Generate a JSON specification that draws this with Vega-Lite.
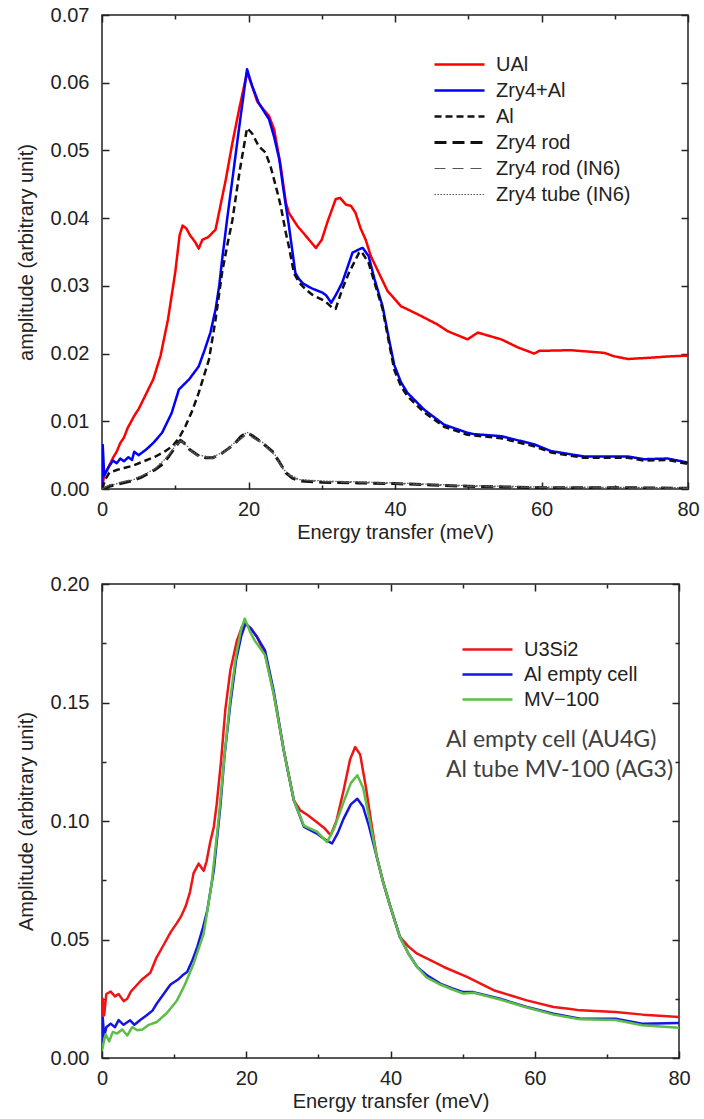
{
  "$schema": "https://vega.github.io/schema/vega-lite/v6.json",
  "background": "white",
  "padding": {"top": 4, "left": 15, "right": 8, "bottom": 4},
  "spacing": 30,
  "config": {
    "view": {"stroke": "#222222", "strokeWidth": 1.5},
    "font": "Liberation Sans",
    "axis": {
      "grid": false, "domain": false,
      "labelFont": "Liberation Sans", "labelFontSize": 20, "labelColor": "#222222",
      "titleFont": "Liberation Sans", "titleFontSize": 20, "titleFontWeight": "normal", "titleColor": "#222222",
      "tickColor": "#222222", "tickWidth": 1.5, "labelFlush": false, "labelOverlap": false
    },
    "legend": {
      "orient": "none", "title": null, "symbolType": "stroke", "symbolSize": 2500,
      "clipHeight": 23, "rowPadding": 2, "padding": 0,
      "labelFont": "Liberation Sans", "labelFontSize": 20, "labelColor": "#222222", "labelOffset": 10
    }
  },
  "resolve": {"scale": {"color": "independent", "strokeDash": "independent", "strokeWidth": "independent", "x": "independent", "y": "independent"}},
  "datasets": {
    "top": [
      {"s": "UAl", "E": 0, "A": 0.0},
      {"s": "UAl", "E": 0.3, "A": 0.002},
      {"s": "UAl", "E": 1, "A": 0.0035},
      {"s": "UAl", "E": 1.6, "A": 0.0048},
      {"s": "UAl", "E": 2, "A": 0.0055},
      {"s": "UAl", "E": 2.5, "A": 0.0068},
      {"s": "UAl", "E": 3, "A": 0.0076},
      {"s": "UAl", "E": 3.5, "A": 0.0090},
      {"s": "UAl", "E": 4, "A": 0.0100},
      {"s": "UAl", "E": 4.4, "A": 0.0108},
      {"s": "UAl", "E": 5, "A": 0.0118},
      {"s": "UAl", "E": 6, "A": 0.0140},
      {"s": "UAl", "E": 7, "A": 0.0162},
      {"s": "UAl", "E": 8, "A": 0.0197},
      {"s": "UAl", "E": 9, "A": 0.0250},
      {"s": "UAl", "E": 10, "A": 0.0320},
      {"s": "UAl", "E": 10.6, "A": 0.0375},
      {"s": "UAl", "E": 11, "A": 0.0389},
      {"s": "UAl", "E": 11.5, "A": 0.0385},
      {"s": "UAl", "E": 12, "A": 0.0375},
      {"s": "UAl", "E": 12.7, "A": 0.0365},
      {"s": "UAl", "E": 13.2, "A": 0.0355},
      {"s": "UAl", "E": 13.7, "A": 0.0368},
      {"s": "UAl", "E": 14.5, "A": 0.0372},
      {"s": "UAl", "E": 15.5, "A": 0.0383},
      {"s": "UAl", "E": 16.2, "A": 0.0420},
      {"s": "UAl", "E": 16.9, "A": 0.0457},
      {"s": "UAl", "E": 17.8, "A": 0.0511},
      {"s": "UAl", "E": 18.8, "A": 0.0565},
      {"s": "UAl", "E": 19.8, "A": 0.0615},
      {"s": "UAl", "E": 20.5, "A": 0.0595},
      {"s": "UAl", "E": 21.2, "A": 0.0572},
      {"s": "UAl", "E": 21.7, "A": 0.0565},
      {"s": "UAl", "E": 22.8, "A": 0.0551},
      {"s": "UAl", "E": 23.5, "A": 0.0531},
      {"s": "UAl", "E": 24.4, "A": 0.0477},
      {"s": "UAl", "E": 25.1, "A": 0.0423},
      {"s": "UAl", "E": 25.5, "A": 0.0408},
      {"s": "UAl", "E": 26.7, "A": 0.0388},
      {"s": "UAl", "E": 27.5, "A": 0.0378},
      {"s": "UAl", "E": 28.5, "A": 0.0365},
      {"s": "UAl", "E": 29.2, "A": 0.0356},
      {"s": "UAl", "E": 30.0, "A": 0.0368},
      {"s": "UAl", "E": 30.8, "A": 0.0395},
      {"s": "UAl", "E": 31.9, "A": 0.0428},
      {"s": "UAl", "E": 32.5, "A": 0.0430},
      {"s": "UAl", "E": 33.3, "A": 0.0420},
      {"s": "UAl", "E": 34.0, "A": 0.0418},
      {"s": "UAl", "E": 34.6, "A": 0.0408},
      {"s": "UAl", "E": 35.3, "A": 0.0385},
      {"s": "UAl", "E": 36.0, "A": 0.0368},
      {"s": "UAl", "E": 36.7, "A": 0.0344},
      {"s": "UAl", "E": 37.8, "A": 0.0319},
      {"s": "UAl", "E": 39.0, "A": 0.0292},
      {"s": "UAl", "E": 39.6, "A": 0.0285},
      {"s": "UAl", "E": 40.8, "A": 0.0270},
      {"s": "UAl", "E": 43.1, "A": 0.0258},
      {"s": "UAl", "E": 45.8, "A": 0.0243},
      {"s": "UAl", "E": 47.2, "A": 0.0233},
      {"s": "UAl", "E": 49.9, "A": 0.0221},
      {"s": "UAl", "E": 51.3, "A": 0.0231},
      {"s": "UAl", "E": 54.5, "A": 0.0221},
      {"s": "UAl", "E": 56.8, "A": 0.0209},
      {"s": "UAl", "E": 59.0, "A": 0.0200},
      {"s": "UAl", "E": 59.7, "A": 0.0204},
      {"s": "UAl", "E": 64.0, "A": 0.0205},
      {"s": "UAl", "E": 68.6, "A": 0.0201},
      {"s": "UAl", "E": 69.9, "A": 0.0196},
      {"s": "UAl", "E": 71.8, "A": 0.0192},
      {"s": "UAl", "E": 75.0, "A": 0.0194},
      {"s": "UAl", "E": 77.7, "A": 0.0196},
      {"s": "UAl", "E": 80, "A": 0.0197},

      {"s": "Zry4+Al", "E": 0, "A": 0.0},
      {"s": "Zry4+Al", "E": 0.1, "A": 0.0065},
      {"s": "Zry4+Al", "E": 0.3, "A": 0.0020},
      {"s": "Zry4+Al", "E": 1, "A": 0.0034},
      {"s": "Zry4+Al", "E": 1.5, "A": 0.0042},
      {"s": "Zry4+Al", "E": 2, "A": 0.0038},
      {"s": "Zry4+Al", "E": 2.5, "A": 0.0045},
      {"s": "Zry4+Al", "E": 3, "A": 0.0041},
      {"s": "Zry4+Al", "E": 3.6, "A": 0.0047},
      {"s": "Zry4+Al", "E": 4.1, "A": 0.0043},
      {"s": "Zry4+Al", "E": 4.4, "A": 0.0055},
      {"s": "Zry4+Al", "E": 5, "A": 0.0050},
      {"s": "Zry4+Al", "E": 6, "A": 0.0058},
      {"s": "Zry4+Al", "E": 7, "A": 0.0068},
      {"s": "Zry4+Al", "E": 8.2, "A": 0.0083},
      {"s": "Zry4+Al", "E": 9.5, "A": 0.0112},
      {"s": "Zry4+Al", "E": 10.5, "A": 0.0147},
      {"s": "Zry4+Al", "E": 11.9, "A": 0.0162},
      {"s": "Zry4+Al", "E": 13.2, "A": 0.0181},
      {"s": "Zry4+Al", "E": 14.0, "A": 0.0205},
      {"s": "Zry4+Al", "E": 14.8, "A": 0.0231},
      {"s": "Zry4+Al", "E": 15.5, "A": 0.0265},
      {"s": "Zry4+Al", "E": 16.0, "A": 0.0300},
      {"s": "Zry4+Al", "E": 16.4, "A": 0.0339},
      {"s": "Zry4+Al", "E": 17.1, "A": 0.0400},
      {"s": "Zry4+Al", "E": 17.8, "A": 0.0457},
      {"s": "Zry4+Al", "E": 18.8, "A": 0.0540},
      {"s": "Zry4+Al", "E": 19.8, "A": 0.0620},
      {"s": "Zry4+Al", "E": 20.5, "A": 0.0595},
      {"s": "Zry4+Al", "E": 21.4, "A": 0.0570},
      {"s": "Zry4+Al", "E": 22.8, "A": 0.0546},
      {"s": "Zry4+Al", "E": 23.5, "A": 0.0520},
      {"s": "Zry4+Al", "E": 24.2, "A": 0.0487},
      {"s": "Zry4+Al", "E": 24.8, "A": 0.0440},
      {"s": "Zry4+Al", "E": 25.5, "A": 0.0390},
      {"s": "Zry4+Al", "E": 26.4, "A": 0.0319},
      {"s": "Zry4+Al", "E": 26.9, "A": 0.0310},
      {"s": "Zry4+Al", "E": 27.5, "A": 0.0303},
      {"s": "Zry4+Al", "E": 28.7, "A": 0.0296},
      {"s": "Zry4+Al", "E": 30.1, "A": 0.0290},
      {"s": "Zry4+Al", "E": 30.6, "A": 0.0286},
      {"s": "Zry4+Al", "E": 31.3, "A": 0.0275},
      {"s": "Zry4+Al", "E": 32.0, "A": 0.0288},
      {"s": "Zry4+Al", "E": 32.8, "A": 0.0305},
      {"s": "Zry4+Al", "E": 34.2, "A": 0.0349},
      {"s": "Zry4+Al", "E": 35.3, "A": 0.0355},
      {"s": "Zry4+Al", "E": 35.6, "A": 0.0356},
      {"s": "Zry4+Al", "E": 36.4, "A": 0.0344},
      {"s": "Zry4+Al", "E": 37.2, "A": 0.0310},
      {"s": "Zry4+Al", "E": 38.3, "A": 0.0270},
      {"s": "Zry4+Al", "E": 39.2, "A": 0.0220},
      {"s": "Zry4+Al", "E": 39.9, "A": 0.0183},
      {"s": "Zry4+Al", "E": 40.8, "A": 0.0158},
      {"s": "Zry4+Al", "E": 41.7, "A": 0.0142},
      {"s": "Zry4+Al", "E": 44.0, "A": 0.0117},
      {"s": "Zry4+Al", "E": 46.7, "A": 0.0095},
      {"s": "Zry4+Al", "E": 49.9, "A": 0.0083},
      {"s": "Zry4+Al", "E": 50.8, "A": 0.0081},
      {"s": "Zry4+Al", "E": 54.5, "A": 0.0078},
      {"s": "Zry4+Al", "E": 59.0, "A": 0.0066},
      {"s": "Zry4+Al", "E": 61.3, "A": 0.0056},
      {"s": "Zry4+Al", "E": 65.8, "A": 0.0048},
      {"s": "Zry4+Al", "E": 71.8, "A": 0.0048},
      {"s": "Zry4+Al", "E": 74.0, "A": 0.0044},
      {"s": "Zry4+Al", "E": 77.2, "A": 0.0045},
      {"s": "Zry4+Al", "E": 80, "A": 0.0039},

      {"s": "Al", "E": 0, "A": 0.0},
      {"s": "Al", "E": 0.5, "A": 0.0015},
      {"s": "Al", "E": 1, "A": 0.0024},
      {"s": "Al", "E": 2, "A": 0.0028},
      {"s": "Al", "E": 3, "A": 0.0031},
      {"s": "Al", "E": 4.1, "A": 0.0034},
      {"s": "Al", "E": 5.5, "A": 0.0040},
      {"s": "Al", "E": 7.3, "A": 0.0048},
      {"s": "Al", "E": 8.5, "A": 0.0055},
      {"s": "Al", "E": 9.6, "A": 0.0063},
      {"s": "Al", "E": 10.5, "A": 0.0075},
      {"s": "Al", "E": 11.4, "A": 0.0093},
      {"s": "Al", "E": 12.3, "A": 0.0115},
      {"s": "Al", "E": 13.2, "A": 0.0142},
      {"s": "Al", "E": 14.6, "A": 0.0191},
      {"s": "Al", "E": 15.5, "A": 0.0250},
      {"s": "Al", "E": 16.4, "A": 0.0320},
      {"s": "Al", "E": 17.1, "A": 0.0360},
      {"s": "Al", "E": 17.8, "A": 0.0397},
      {"s": "Al", "E": 18.8, "A": 0.0470},
      {"s": "Al", "E": 19.8, "A": 0.0533},
      {"s": "Al", "E": 20.5, "A": 0.0525},
      {"s": "Al", "E": 21.4, "A": 0.0506},
      {"s": "Al", "E": 22.3, "A": 0.0497},
      {"s": "Al", "E": 23.0, "A": 0.0477},
      {"s": "Al", "E": 23.9, "A": 0.0440},
      {"s": "Al", "E": 24.4, "A": 0.0418},
      {"s": "Al", "E": 25.1, "A": 0.0378},
      {"s": "Al", "E": 25.5, "A": 0.0359},
      {"s": "Al", "E": 26.2, "A": 0.0319},
      {"s": "Al", "E": 26.9, "A": 0.0305},
      {"s": "Al", "E": 27.8, "A": 0.0295},
      {"s": "Al", "E": 28.7, "A": 0.0287},
      {"s": "Al", "E": 30.5, "A": 0.0277},
      {"s": "Al", "E": 31.4, "A": 0.0268},
      {"s": "Al", "E": 31.9, "A": 0.0266},
      {"s": "Al", "E": 32.8, "A": 0.0295},
      {"s": "Al", "E": 33.7, "A": 0.0319},
      {"s": "Al", "E": 35.1, "A": 0.0349},
      {"s": "Al", "E": 35.4, "A": 0.0351},
      {"s": "Al", "E": 36.4, "A": 0.0334},
      {"s": "Al", "E": 37.2, "A": 0.0305},
      {"s": "Al", "E": 38.3, "A": 0.0266},
      {"s": "Al", "E": 39.2, "A": 0.0215},
      {"s": "Al", "E": 39.9, "A": 0.0176},
      {"s": "Al", "E": 40.8, "A": 0.0152},
      {"s": "Al", "E": 41.7, "A": 0.0137},
      {"s": "Al", "E": 44.0, "A": 0.0113},
      {"s": "Al", "E": 46.7, "A": 0.0092},
      {"s": "Al", "E": 49.9, "A": 0.0080},
      {"s": "Al", "E": 54.5, "A": 0.0075},
      {"s": "Al", "E": 59.0, "A": 0.0063},
      {"s": "Al", "E": 61.3, "A": 0.0054},
      {"s": "Al", "E": 65.8, "A": 0.0046},
      {"s": "Al", "E": 71.8, "A": 0.0046},
      {"s": "Al", "E": 74.0, "A": 0.0042},
      {"s": "Al", "E": 77.2, "A": 0.0043},
      {"s": "Al", "E": 80, "A": 0.0037},

      {"s": "Zry4 rod", "E": 0, "A": 0.0},
      {"s": "Zry4 rod", "E": 1, "A": 0.0004},
      {"s": "Zry4 rod", "E": 2.5, "A": 0.0008},
      {"s": "Zry4 rod", "E": 4.1, "A": 0.0012},
      {"s": "Zry4 rod", "E": 5.5, "A": 0.0018},
      {"s": "Zry4 rod", "E": 7.3, "A": 0.0029},
      {"s": "Zry4 rod", "E": 8.3, "A": 0.0037},
      {"s": "Zry4 rod", "E": 9.1, "A": 0.0048},
      {"s": "Zry4 rod", "E": 10.0, "A": 0.0062},
      {"s": "Zry4 rod", "E": 10.7, "A": 0.0072},
      {"s": "Zry4 rod", "E": 11.2, "A": 0.0068},
      {"s": "Zry4 rod", "E": 12.0, "A": 0.0058},
      {"s": "Zry4 rod", "E": 13.2, "A": 0.0049},
      {"s": "Zry4 rod", "E": 14.2, "A": 0.0046},
      {"s": "Zry4 rod", "E": 15.1, "A": 0.0046},
      {"s": "Zry4 rod", "E": 16.4, "A": 0.0053},
      {"s": "Zry4 rod", "E": 17.3, "A": 0.0060},
      {"s": "Zry4 rod", "E": 18.2, "A": 0.0068},
      {"s": "Zry4 rod", "E": 19.0, "A": 0.0078},
      {"s": "Zry4 rod", "E": 19.8, "A": 0.0083},
      {"s": "Zry4 rod", "E": 20.5, "A": 0.0079},
      {"s": "Zry4 rod", "E": 21.9, "A": 0.0068},
      {"s": "Zry4 rod", "E": 23.3, "A": 0.0055},
      {"s": "Zry4 rod", "E": 24.2, "A": 0.0040},
      {"s": "Zry4 rod", "E": 25.1, "A": 0.0024},
      {"s": "Zry4 rod", "E": 26.0, "A": 0.0016},
      {"s": "Zry4 rod", "E": 26.9, "A": 0.0012},
      {"s": "Zry4 rod", "E": 30, "A": 0.0010},
      {"s": "Zry4 rod", "E": 35, "A": 0.0009},
      {"s": "Zry4 rod", "E": 40, "A": 0.0008},
      {"s": "Zry4 rod", "E": 45, "A": 0.0006},
      {"s": "Zry4 rod", "E": 50, "A": 0.0004},
      {"s": "Zry4 rod", "E": 55, "A": 0.0003},
      {"s": "Zry4 rod", "E": 60, "A": 0.0002},
      {"s": "Zry4 rod", "E": 70, "A": 0.0002},
      {"s": "Zry4 rod", "E": 80, "A": 0.0001},

      {"s": "Zry4 rod (IN6)", "E": 0, "A": 0.0},
      {"s": "Zry4 rod (IN6)", "E": 1, "A": 0.0006},
      {"s": "Zry4 rod (IN6)", "E": 2.5, "A": 0.0010},
      {"s": "Zry4 rod (IN6)", "E": 4.1, "A": 0.0014},
      {"s": "Zry4 rod (IN6)", "E": 5.5, "A": 0.0020},
      {"s": "Zry4 rod (IN6)", "E": 7.3, "A": 0.0030},
      {"s": "Zry4 rod (IN6)", "E": 9.1, "A": 0.0050},
      {"s": "Zry4 rod (IN6)", "E": 10.0, "A": 0.0063},
      {"s": "Zry4 rod (IN6)", "E": 10.8, "A": 0.0071},
      {"s": "Zry4 rod (IN6)", "E": 12.0, "A": 0.0057},
      {"s": "Zry4 rod (IN6)", "E": 13.2, "A": 0.0048},
      {"s": "Zry4 rod (IN6)", "E": 15.1, "A": 0.0045},
      {"s": "Zry4 rod (IN6)", "E": 16.4, "A": 0.0052},
      {"s": "Zry4 rod (IN6)", "E": 18.2, "A": 0.0067},
      {"s": "Zry4 rod (IN6)", "E": 19.8, "A": 0.0081},
      {"s": "Zry4 rod (IN6)", "E": 21.9, "A": 0.0067},
      {"s": "Zry4 rod (IN6)", "E": 23.3, "A": 0.0053},
      {"s": "Zry4 rod (IN6)", "E": 25.1, "A": 0.0023},
      {"s": "Zry4 rod (IN6)", "E": 26.9, "A": 0.0013},
      {"s": "Zry4 rod (IN6)", "E": 30, "A": 0.0011},
      {"s": "Zry4 rod (IN6)", "E": 40, "A": 0.0008},
      {"s": "Zry4 rod (IN6)", "E": 50, "A": 0.0004},
      {"s": "Zry4 rod (IN6)", "E": 60, "A": 0.0002},
      {"s": "Zry4 rod (IN6)", "E": 80, "A": 0.0001},

      {"s": "Zry4 tube (IN6)", "E": 0, "A": 0.0},
      {"s": "Zry4 tube (IN6)", "E": 1, "A": 0.0005},
      {"s": "Zry4 tube (IN6)", "E": 2.5, "A": 0.0009},
      {"s": "Zry4 tube (IN6)", "E": 4.1, "A": 0.0013},
      {"s": "Zry4 tube (IN6)", "E": 5.5, "A": 0.0019},
      {"s": "Zry4 tube (IN6)", "E": 7.3, "A": 0.0031},
      {"s": "Zry4 tube (IN6)", "E": 9.1, "A": 0.0049},
      {"s": "Zry4 tube (IN6)", "E": 10.0, "A": 0.0064},
      {"s": "Zry4 tube (IN6)", "E": 10.8, "A": 0.0073},
      {"s": "Zry4 tube (IN6)", "E": 12.0, "A": 0.0059},
      {"s": "Zry4 tube (IN6)", "E": 13.2, "A": 0.0050},
      {"s": "Zry4 tube (IN6)", "E": 15.1, "A": 0.0047},
      {"s": "Zry4 tube (IN6)", "E": 16.4, "A": 0.0054},
      {"s": "Zry4 tube (IN6)", "E": 18.2, "A": 0.0069},
      {"s": "Zry4 tube (IN6)", "E": 19.8, "A": 0.0084},
      {"s": "Zry4 tube (IN6)", "E": 21.9, "A": 0.0069},
      {"s": "Zry4 tube (IN6)", "E": 23.3, "A": 0.0056},
      {"s": "Zry4 tube (IN6)", "E": 25.1, "A": 0.0025},
      {"s": "Zry4 tube (IN6)", "E": 26.9, "A": 0.0014},
      {"s": "Zry4 tube (IN6)", "E": 30, "A": 0.0012},
      {"s": "Zry4 tube (IN6)", "E": 40, "A": 0.0009},
      {"s": "Zry4 tube (IN6)", "E": 50, "A": 0.0005},
      {"s": "Zry4 tube (IN6)", "E": 60, "A": 0.0003},
      {"s": "Zry4 tube (IN6)", "E": 80, "A": 0.0002}
    ],
    "bot": [
      {"s": "U3Si2", "E": 0, "A": 0.010},
      {"s": "U3Si2", "E": 0.1, "A": 0.025},
      {"s": "U3Si2", "E": 0.3, "A": 0.018},
      {"s": "U3Si2", "E": 0.6, "A": 0.027},
      {"s": "U3Si2", "E": 1.2, "A": 0.028},
      {"s": "U3Si2", "E": 1.8, "A": 0.026},
      {"s": "U3Si2", "E": 2.3, "A": 0.027},
      {"s": "U3Si2", "E": 3.0, "A": 0.024},
      {"s": "U3Si2", "E": 3.5, "A": 0.025},
      {"s": "U3Si2", "E": 4.0, "A": 0.028},
      {"s": "U3Si2", "E": 4.9, "A": 0.031},
      {"s": "U3Si2", "E": 5.5, "A": 0.033},
      {"s": "U3Si2", "E": 6.7, "A": 0.036},
      {"s": "U3Si2", "E": 7.5, "A": 0.042},
      {"s": "U3Si2", "E": 8.6, "A": 0.048},
      {"s": "U3Si2", "E": 9.5, "A": 0.053},
      {"s": "U3Si2", "E": 10.4, "A": 0.057},
      {"s": "U3Si2", "E": 11.0, "A": 0.060},
      {"s": "U3Si2", "E": 11.6, "A": 0.064},
      {"s": "U3Si2", "E": 12.2, "A": 0.070},
      {"s": "U3Si2", "E": 12.7, "A": 0.078},
      {"s": "U3Si2", "E": 13.4, "A": 0.082},
      {"s": "U3Si2", "E": 14.1, "A": 0.079},
      {"s": "U3Si2", "E": 14.5, "A": 0.083},
      {"s": "U3Si2", "E": 15.0, "A": 0.091},
      {"s": "U3Si2", "E": 15.5, "A": 0.0975},
      {"s": "U3Si2", "E": 15.9, "A": 0.107},
      {"s": "U3Si2", "E": 16.5, "A": 0.125},
      {"s": "U3Si2", "E": 17.1, "A": 0.147},
      {"s": "U3Si2", "E": 17.8, "A": 0.1636},
      {"s": "U3Si2", "E": 18.7, "A": 0.176},
      {"s": "U3Si2", "E": 19.4, "A": 0.1819},
      {"s": "U3Si2", "E": 19.9, "A": 0.1833},
      {"s": "U3Si2", "E": 20.7, "A": 0.181},
      {"s": "U3Si2", "E": 21.5, "A": 0.1776},
      {"s": "U3Si2", "E": 22.6, "A": 0.1706},
      {"s": "U3Si2", "E": 23.8, "A": 0.1538},
      {"s": "U3Si2", "E": 25.2, "A": 0.1298},
      {"s": "U3Si2", "E": 26.6, "A": 0.1087},
      {"s": "U3Si2", "E": 27.5, "A": 0.1045},
      {"s": "U3Si2", "E": 28.5, "A": 0.1025},
      {"s": "U3Si2", "E": 29.8, "A": 0.0995},
      {"s": "U3Si2", "E": 30.9, "A": 0.0968},
      {"s": "U3Si2", "E": 31.7, "A": 0.0940},
      {"s": "U3Si2", "E": 32.5, "A": 0.100},
      {"s": "U3Si2", "E": 33.5, "A": 0.113},
      {"s": "U3Si2", "E": 34.4, "A": 0.126},
      {"s": "U3Si2", "E": 35.1, "A": 0.1312},
      {"s": "U3Si2", "E": 35.8, "A": 0.128},
      {"s": "U3Si2", "E": 36.6, "A": 0.114},
      {"s": "U3Si2", "E": 37.4, "A": 0.098},
      {"s": "U3Si2", "E": 38.1, "A": 0.0848},
      {"s": "U3Si2", "E": 39.0, "A": 0.074},
      {"s": "U3Si2", "E": 40.0, "A": 0.0637},
      {"s": "U3Si2", "E": 41.3, "A": 0.0511},
      {"s": "U3Si2", "E": 42.5, "A": 0.047},
      {"s": "U3Si2", "E": 43.7, "A": 0.044},
      {"s": "U3Si2", "E": 47.4, "A": 0.0384},
      {"s": "U3Si2", "E": 50.6, "A": 0.0342},
      {"s": "U3Si2", "E": 54.3, "A": 0.0286},
      {"s": "U3Si2", "E": 58.9, "A": 0.0243},
      {"s": "U3Si2", "E": 62.6, "A": 0.0215},
      {"s": "U3Si2", "E": 64.7, "A": 0.0208},
      {"s": "U3Si2", "E": 66.3, "A": 0.0201},
      {"s": "U3Si2", "E": 71.2, "A": 0.0194},
      {"s": "U3Si2", "E": 75, "A": 0.0183},
      {"s": "U3Si2", "E": 80, "A": 0.0173},

      {"s": "Al empty cell", "E": 0, "A": 0.005},
      {"s": "Al empty cell", "E": 0.1, "A": 0.017},
      {"s": "Al empty cell", "E": 0.3, "A": 0.009},
      {"s": "Al empty cell", "E": 0.6, "A": 0.013},
      {"s": "Al empty cell", "E": 1.2, "A": 0.0145},
      {"s": "Al empty cell", "E": 1.8, "A": 0.013},
      {"s": "Al empty cell", "E": 2.3, "A": 0.016},
      {"s": "Al empty cell", "E": 3.0, "A": 0.014},
      {"s": "Al empty cell", "E": 3.9, "A": 0.0159},
      {"s": "Al empty cell", "E": 4.5, "A": 0.014},
      {"s": "Al empty cell", "E": 5.3, "A": 0.016},
      {"s": "Al empty cell", "E": 6.2, "A": 0.018},
      {"s": "Al empty cell", "E": 7.0, "A": 0.020},
      {"s": "Al empty cell", "E": 7.6, "A": 0.023},
      {"s": "Al empty cell", "E": 8.6, "A": 0.0272},
      {"s": "Al empty cell", "E": 9.5, "A": 0.031},
      {"s": "Al empty cell", "E": 10.5, "A": 0.033},
      {"s": "Al empty cell", "E": 11.2, "A": 0.035},
      {"s": "Al empty cell", "E": 11.8, "A": 0.0363},
      {"s": "Al empty cell", "E": 12.5, "A": 0.041},
      {"s": "Al empty cell", "E": 13.2, "A": 0.0468},
      {"s": "Al empty cell", "E": 14.0, "A": 0.055},
      {"s": "Al empty cell", "E": 14.6, "A": 0.0623},
      {"s": "Al empty cell", "E": 15.5, "A": 0.0792},
      {"s": "Al empty cell", "E": 16.4, "A": 0.1059},
      {"s": "Al empty cell", "E": 17.0, "A": 0.128},
      {"s": "Al empty cell", "E": 17.8, "A": 0.1495},
      {"s": "Al empty cell", "E": 18.6, "A": 0.168},
      {"s": "Al empty cell", "E": 19.3, "A": 0.178},
      {"s": "Al empty cell", "E": 19.9, "A": 0.1833},
      {"s": "Al empty cell", "E": 20.7, "A": 0.181},
      {"s": "Al empty cell", "E": 21.5, "A": 0.1776},
      {"s": "Al empty cell", "E": 22.6, "A": 0.172},
      {"s": "Al empty cell", "E": 23.8, "A": 0.155},
      {"s": "Al empty cell", "E": 25.2, "A": 0.1298},
      {"s": "Al empty cell", "E": 26.6, "A": 0.1087},
      {"s": "Al empty cell", "E": 28.0, "A": 0.0975},
      {"s": "Al empty cell", "E": 29.8, "A": 0.0947},
      {"s": "Al empty cell", "E": 31.0, "A": 0.092},
      {"s": "Al empty cell", "E": 31.9, "A": 0.0905},
      {"s": "Al empty cell", "E": 32.7, "A": 0.095},
      {"s": "Al empty cell", "E": 33.5, "A": 0.101},
      {"s": "Al empty cell", "E": 34.5, "A": 0.107},
      {"s": "Al empty cell", "E": 35.4, "A": 0.1094},
      {"s": "Al empty cell", "E": 36.2, "A": 0.106},
      {"s": "Al empty cell", "E": 37.0, "A": 0.098},
      {"s": "Al empty cell", "E": 38.1, "A": 0.0848},
      {"s": "Al empty cell", "E": 39.0, "A": 0.074},
      {"s": "Al empty cell", "E": 40.0, "A": 0.0637},
      {"s": "Al empty cell", "E": 41.3, "A": 0.0511},
      {"s": "Al empty cell", "E": 42.5, "A": 0.044},
      {"s": "Al empty cell", "E": 43.7, "A": 0.0384},
      {"s": "Al empty cell", "E": 45, "A": 0.035},
      {"s": "Al empty cell", "E": 46.9, "A": 0.0314},
      {"s": "Al empty cell", "E": 48.5, "A": 0.0295},
      {"s": "Al empty cell", "E": 50.1, "A": 0.0278},
      {"s": "Al empty cell", "E": 51.5, "A": 0.0278},
      {"s": "Al empty cell", "E": 55.2, "A": 0.025},
      {"s": "Al empty cell", "E": 58.9, "A": 0.0215},
      {"s": "Al empty cell", "E": 62.6, "A": 0.0187},
      {"s": "Al empty cell", "E": 66.3, "A": 0.0166},
      {"s": "Al empty cell", "E": 71.2, "A": 0.0166},
      {"s": "Al empty cell", "E": 74.9, "A": 0.0145},
      {"s": "Al empty cell", "E": 80, "A": 0.0148},

      {"s": "MV−100", "E": 0, "A": 0.003},
      {"s": "MV−100", "E": 0.2, "A": 0.0061},
      {"s": "MV−100", "E": 0.5, "A": 0.010},
      {"s": "MV−100", "E": 1.0, "A": 0.007},
      {"s": "MV−100", "E": 1.5, "A": 0.011},
      {"s": "MV−100", "E": 2.1, "A": 0.0103},
      {"s": "MV−100", "E": 2.8, "A": 0.012},
      {"s": "MV−100", "E": 3.5, "A": 0.0095},
      {"s": "MV−100", "E": 4.2, "A": 0.013},
      {"s": "MV−100", "E": 4.9, "A": 0.0117},
      {"s": "MV−100", "E": 5.6, "A": 0.012},
      {"s": "MV−100", "E": 6.5, "A": 0.014},
      {"s": "MV−100", "E": 7.6, "A": 0.0152},
      {"s": "MV−100", "E": 9.0, "A": 0.019},
      {"s": "MV−100", "E": 10.4, "A": 0.0243},
      {"s": "MV−100", "E": 11.5, "A": 0.031},
      {"s": "MV−100", "E": 12.7, "A": 0.0398},
      {"s": "MV−100", "E": 14.1, "A": 0.0525},
      {"s": "MV−100", "E": 15.2, "A": 0.0736},
      {"s": "MV−100", "E": 16.2, "A": 0.1017},
      {"s": "MV−100", "E": 17.0, "A": 0.128},
      {"s": "MV−100", "E": 17.8, "A": 0.152},
      {"s": "MV−100", "E": 18.6, "A": 0.170},
      {"s": "MV−100", "E": 19.3, "A": 0.181},
      {"s": "MV−100", "E": 19.8, "A": 0.1854},
      {"s": "MV−100", "E": 20.5, "A": 0.180},
      {"s": "MV−100", "E": 21.2, "A": 0.176},
      {"s": "MV−100", "E": 21.8, "A": 0.1735},
      {"s": "MV−100", "E": 22.6, "A": 0.170},
      {"s": "MV−100", "E": 23.8, "A": 0.1538},
      {"s": "MV−100", "E": 25.2, "A": 0.1298},
      {"s": "MV−100", "E": 26.6, "A": 0.1087},
      {"s": "MV−100", "E": 28.0, "A": 0.098},
      {"s": "MV−100", "E": 29.8, "A": 0.0955},
      {"s": "MV−100", "E": 31.2, "A": 0.0911},
      {"s": "MV−100", "E": 32.2, "A": 0.097},
      {"s": "MV−100", "E": 33.5, "A": 0.108},
      {"s": "MV−100", "E": 34.5, "A": 0.116},
      {"s": "MV−100", "E": 35.4, "A": 0.1193},
      {"s": "MV−100", "E": 36.2, "A": 0.114},
      {"s": "MV−100", "E": 37.0, "A": 0.102},
      {"s": "MV−100", "E": 38.1, "A": 0.0848},
      {"s": "MV−100", "E": 39.0, "A": 0.074},
      {"s": "MV−100", "E": 40.0, "A": 0.0637},
      {"s": "MV−100", "E": 41.3, "A": 0.0511},
      {"s": "MV−100", "E": 42.5, "A": 0.044},
      {"s": "MV−100", "E": 43.7, "A": 0.0384},
      {"s": "MV−100", "E": 45, "A": 0.034},
      {"s": "MV−100", "E": 46.9, "A": 0.0310},
      {"s": "MV−100", "E": 48.5, "A": 0.0290},
      {"s": "MV−100", "E": 50.1, "A": 0.0272},
      {"s": "MV−100", "E": 51.5, "A": 0.0275},
      {"s": "MV−100", "E": 55.2, "A": 0.0247},
      {"s": "MV−100", "E": 58.9, "A": 0.0213},
      {"s": "MV−100", "E": 62.6, "A": 0.0183},
      {"s": "MV−100", "E": 66.3, "A": 0.0163},
      {"s": "MV−100", "E": 71.2, "A": 0.0160},
      {"s": "MV−100", "E": 74.9, "A": 0.0138},
      {"s": "MV−100", "E": 80, "A": 0.0128}
    ],
    "notes": [
      {"E": 47.7, "A": 0.1341, "t": "Al empty cell (AU4G)"},
      {"E": 47.7, "A": 0.1214, "t": "Al tube MV-100 (AG3)"}
    ]
  },
  "vconcat": [
    {
      "width": 586,
      "height": 474,
      "resolve": {"axis": {"x": "independent", "y": "independent"}},
      "layer": [
        {
          "data": {"name": "top"},
          "mark": {"type": "line", "clip": true, "strokeJoin": "round"},
          "encoding": {
            "x": {"field": "E", "type": "quantitative",
              "scale": {"domain": [0, 80], "nice": false, "zero": false},
              "axis": {"orient": "bottom", "title": "Energy transfer (meV)", "values": [0, 10, 20, 30, 40, 50, 60, 70, 80],
                "labelExpr": "datum.value % 20 === 0 ? datum.label : ''",
                "tickSize": {"condition": {"test": "datum.value % 20 === 0", "value": -7}, "value": -4},
                "labelPadding": 17, "titlePadding": 0}},
            "y": {"field": "A", "type": "quantitative",
              "scale": {"domain": [0, 0.07], "nice": false},
              "axis": {"orient": "left", "title": "amplitude (arbitrary unit)", "values": [0, 0.01, 0.02, 0.03, 0.04, 0.05, 0.06, 0.07],
                "format": ".2f", "tickSize": -7, "labelPadding": 20, "titlePadding": 14}},
            "color": {"field": "s", "type": "nominal",
              "scale": {"domain": ["UAl", "Zry4+Al", "Al", "Zry4 rod", "Zry4 rod (IN6)", "Zry4 tube (IN6)"],
                "range": ["#ff0000", "#0000ff", "#111111", "#111111", "#555555", "#555555"]},
              "legend": {"legendX": 331, "legendY": 38, "rowPadding": 3,
                "encode": {"symbols": {"update": {"strokeWidth": {"signal": "indexof(['Zry4 rod (IN6)', 'Zry4 tube (IN6)'], datum.value) >= 0 ? 1.2 : (datum.value === 'Zry4 rod' ? 3 : 2.5)"}}}}}},
            "strokeDash": {"field": "s", "type": "nominal",
              "scale": {"domain": ["UAl", "Zry4+Al", "Al", "Zry4 rod", "Zry4 rod (IN6)", "Zry4 tube (IN6)"],
                "range": [[1, 0], [1, 0], [7, 4], [12, 6], [11, 7], [1.5, 1.5]]},
              "legend": {"legendX": 331, "legendY": 38, "rowPadding": 3,
                "encode": {"symbols": {"update": {"strokeWidth": {"signal": "indexof(['Zry4 rod (IN6)', 'Zry4 tube (IN6)'], datum.value) >= 0 ? 1.2 : (datum.value === 'Zry4 rod' ? 3 : 2.5)"}}}}}},
            "strokeWidth": {"field": "s", "type": "nominal", "legend": null,
              "scale": {"type": "ordinal", "domain": ["UAl", "Zry4+Al", "Al", "Zry4 rod", "Zry4 rod (IN6)", "Zry4 tube (IN6)"],
                "range": [2.5, 2.5, 2.5, 3, 1.2, 1.2]}}
          }
        },
        {
          "data": {"values": []},
          "mark": {"type": "text"},
          "encoding": {
            "x": {"field": "E", "type": "quantitative",
              "axis": {"orient": "top", "title": null, "labels": false, "values": [0, 10, 20, 30, 40, 50, 60, 70, 80],
                "tickSize": {"condition": {"test": "datum.value % 20 === 0", "value": -7}, "value": -4}}},
            "y": {"field": "A", "type": "quantitative",
              "axis": {"orient": "right", "title": null, "labels": false, "values": [0, 0.01, 0.02, 0.03, 0.04, 0.05, 0.06, 0.07], "tickSize": -7}}
          }
        }
      ]
    },
    {
      "width": 577,
      "height": 474,
      "resolve": {"axis": {"x": "independent", "y": "independent"}},
      "layer": [
        {
          "data": {"name": "bot"},
          "mark": {"type": "line", "clip": true, "strokeJoin": "round", "strokeWidth": 2.5},
          "encoding": {
            "x": {"field": "E", "type": "quantitative",
              "scale": {"domain": [0, 80], "nice": false, "zero": false},
              "axis": {"orient": "bottom", "title": "Energy transfer (meV)", "values": [0, 10, 20, 30, 40, 50, 60, 70, 80],
                "labelExpr": "datum.value % 20 === 0 ? datum.label : ''",
                "tickSize": {"condition": {"test": "datum.value % 20 === 0", "value": -7}, "value": -4},
                "labelPadding": 17, "titlePadding": 0}},
            "y": {"field": "A", "type": "quantitative",
              "scale": {"domain": [0, 0.2], "nice": false},
              "axis": {"orient": "left", "title": "Amplitude (arbitrary unit)", "values": [0, 0.025, 0.05, 0.075, 0.1, 0.125, 0.15, 0.175, 0.2],
                "format": ".2f", "labelExpr": "round(datum.value * 1000) % 50 === 0 ? datum.label : ''",
                "tickSize": {"condition": {"test": "round(datum.value * 1000) % 50 === 0", "value": -7}, "value": -4},
                "labelPadding": 20, "titlePadding": 14}},
            "color": {"field": "s", "type": "nominal",
              "scale": {"domain": ["U3Si2", "Al empty cell", "MV−100"], "range": ["#f01515", "#1515e0", "#5cbd47"]},
              "legend": {"legendX": 359, "legendY": 54, "encode": {"symbols": {"update": {"strokeWidth": {"value": 2.5}}}}}}
          }
        },
        {
          "data": {"name": "notes"},
          "mark": {"type": "text", "align": "left", "baseline": "middle", "font": "Lato", "fontSize": 23, "color": "#404040"},
          "encoding": {
            "x": {"field": "E", "type": "quantitative",
              "axis": {"orient": "top", "title": null, "labels": false, "values": [0, 10, 20, 30, 40, 50, 60, 70, 80],
                "tickSize": {"condition": {"test": "datum.value % 20 === 0", "value": -7}, "value": -4}}},
            "y": {"field": "A", "type": "quantitative",
              "axis": {"orient": "right", "title": null, "labels": false, "values": [0, 0.025, 0.05, 0.075, 0.1, 0.125, 0.15, 0.175, 0.2],
                "tickSize": {"condition": {"test": "round(datum.value * 1000) % 50 === 0", "value": -7}, "value": -4}}},
            "text": {"field": "t"}
          }
        }
      ]
    }
  ]
}
